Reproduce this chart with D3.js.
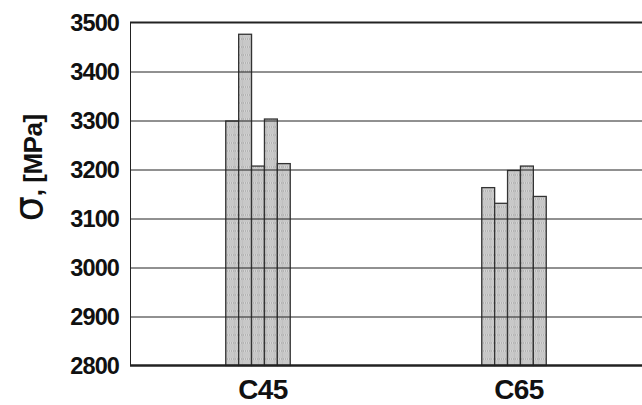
<!DOCTYPE html>
<html>
<head>
<meta charset="utf-8">
<script src="https://cdn.jsdelivr.net/npm/d3@7"></script>
<style>
  body { margin: 0; background: #fff; }
  text { font-family: "Liberation Sans", Arial, sans-serif; fill: #111; }
</style>
</head>
<body>
<div id="chart"></div>
<script>
// data
var categories = ["C45", "C65"];
var samples = ["s1", "s2", "s3", "s4", "s5"];
var c45Values = [3299, 3476, 3207, 3303, 3212];
var c65Values = [3163, 3131, 3198, 3207, 3145];
var yTicks = [2800, 2900, 3000, 3100, 3200, 3300, 3400, 3500];

var seriesByCat = { "C45": c45Values, "C65": c65Values };

var w = 642, h = 405;
var margin = {top: 22.5, right: 0, bottom: 39.5, left: 130};
var width = w - margin.left - margin.right,
    height = h - margin.top - margin.bottom;

var svg = d3.select("#chart").append("svg")
    .attr("width", w)
    .attr("height", h)
  .append("g")
    .attr("transform", "translate(" + margin.left + "," + margin.top + ")");

// hatched fill like the scanned bars
var defs = svg.append("defs");
var pat = defs.append("pattern")
    .attr("id", "dots")
    .attr("patternUnits", "userSpaceOnUse")
    .attr("width", 8).attr("height", 8);
pat.append("rect").attr("width", 8).attr("height", 8).attr("fill", "#e8e8e8");
for (var i = 0; i < 8; i += 2) {
    for (var j = 0; j < 8; j += 2) {
        pat.append("rect").attr("x", i).attr("y", j).attr("width", 1).attr("height", 1).attr("fill", "#a8a8a8");
        pat.append("rect").attr("x", i + 1).attr("y", j + 1).attr("width", 1).attr("height", 1).attr("fill", "#a8a8a8");
    }
}
pat.append("rect").attr("x", 0).attr("y", 0).attr("width", 8).attr("height", 1).attr("fill", "#c0c0c0");
pat.append("rect").attr("x", 0).attr("y", 0).attr("width", 1).attr("height", 8).attr("fill", "#c0c0c0");

var y = d3.scaleLinear().domain([2800, 3500]).range([height, 0]);
var x0 = d3.scaleBand().domain(categories).range([0, width]);
var x1 = d3.scaleBand().domain(samples).range([-32.25, 32.25]);

// bars
var groups = svg.selectAll(".grp")
    .data(categories)
  .enter().append("g")
    .attr("class", "grp")
    .attr("transform", function(d) { return "translate(" + (x0(d) + x0.bandwidth() / 2) + ",0)"; });

groups.selectAll("rect")
    .data(function(d) { return seriesByCat[d].map(function(v, k) { return {s: samples[k], v: v}; }); })
  .enter().append("rect")
    .attr("x", function(d) { return x1(d.s); })
    .attr("y", function(d) { return y(d.v); })
    .attr("width", x1.bandwidth())
    .attr("height", function(d) { return height - y(d.v); })
    .attr("fill", "url(#dots)")
    .attr("stroke", "#333")
    .attr("stroke-width", 1.3);

// gridlines over the bars
svg.selectAll(".grid")
    .data(yTicks.filter(function(t) { return t > 2800 && t < 3500; }))
  .enter().append("line")
    .attr("class", "grid")
    .attr("x1", 0).attr("x2", width)
    .attr("y1", function(d) { return Math.round(y(d)) + 0.5; })
    .attr("y2", function(d) { return Math.round(y(d)) + 0.5; })
    .attr("stroke", "#222")
    .attr("stroke-width", 1);

// frame: top line, left axis, bottom axis
svg.append("line")
    .attr("x1", 0).attr("x2", width)
    .attr("y1", 0).attr("y2", 0)
    .attr("stroke", "#222").attr("stroke-width", 2);
svg.append("line")
    .attr("x1", 0.5).attr("x2", 0.5)
    .attr("y1", 0).attr("y2", height)
    .attr("stroke", "#222").attr("stroke-width", 1);
svg.append("line")
    .attr("x1", 0).attr("x2", width)
    .attr("y1", height).attr("y2", height)
    .attr("stroke", "#222").attr("stroke-width", 2.5);

// Y axis tick labels
var yAxis = svg.append("g")
    .call(d3.axisLeft(y).tickValues(yTicks).tickSize(0).tickPadding(11).tickFormat(d3.format("d")));
yAxis.select(".domain").remove();
yAxis.selectAll("text")
    .attr("font-family", "Liberation Sans, Arial, sans-serif")
    .attr("font-size", 23.5)
    .attr("font-weight", "bold")
    .attr("letter-spacing", -0.9)
    .attr("fill", "#111");

// category labels
svg.selectAll(".cat")
    .data(categories)
  .enter().append("text")
    .attr("class", "cat")
    .attr("text-anchor", "middle")
    .attr("x", function(d) { return x0(d) + x0.bandwidth() / 2 + 5; })
    .attr("y", height + 33)
    .attr("font-size", 28)
    .attr("font-weight", "bold")
    .attr("letter-spacing", -0.6)
    .text(function(d) { return d; });

// Y axis title
var title = svg.append("text")
    .attr("text-anchor", "middle")
    .attr("transform", "translate(" + (42 - margin.left) + "," + (168 - margin.top) + ") rotate(-90)");
title.append("tspan")
    .attr("font-size", 40)
    .attr("font-family", "DejaVu Sans, sans-serif")
    .attr("font-weight", "normal")
    .text("σ");
title.append("tspan")
    .attr("font-size", 26)
    .attr("font-weight", "bold")
    .attr("letter-spacing", -0.5)
    .text(", [MPa]");
</script>
</body>
</html>
